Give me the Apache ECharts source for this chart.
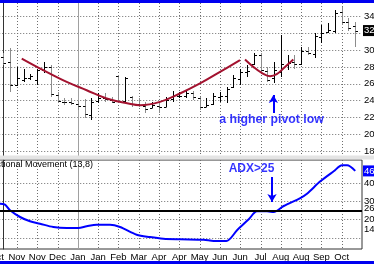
<!DOCTYPE html>
<html><head><meta charset="utf-8">
<script src="https://cdn.jsdelivr.net/npm/echarts@6/dist/echarts.min.js"></script>
<style>html,body{margin:0;padding:0;background:#fff}#c{width:374px;height:264px}</style>
</head><body><div id="c"></div>
<script>
// ---- data (weekly bars, index 0..52) ----
const opens  = [29.2,28.6,25.8,26.5,26.7,26.4,27.6,28.0,24.7,23.9,23.8,23.6,23.4,22.3,24.0,24.3,24.1,26.9,24.0,24.4,23.6,23.4,23.1,23.4,23.3,24.2,24.6,24.6,24.9,24.3,23.3,23.6,24.4,24.5,25.6,26.6,27.4,28.3,29.4,27.5,26.7,27.4,28.2,28.6,28.4,29.9,29.5,31.5,32.1,32.3,34.5,33.3,32.8];
const highs  = [29.6,30.2,28.0,27.8,27.2,27.8,28.6,28.2,25.0,24.3,24.3,24.0,24.2,24.3,24.9,24.9,24.4,27.0,26.8,24.6,24.3,23.8,23.8,24.0,24.4,25.2,25.0,25.2,25.2,24.4,24.3,24.9,25.0,25.6,27.0,27.8,28.2,29.7,29.7,28.0,28.6,31.8,29.4,29.4,30.3,30.3,32.0,33.0,33.2,34.7,35.1,33.8,33.3];
const lows   = [28.2,25.0,25.7,26.2,26.4,25.8,27.3,24.4,23.7,23.5,23.5,22.9,22.0,21.7,23.7,23.8,23.7,23.7,23.7,23.2,23.2,22.5,23.1,22.6,23.2,23.8,24.3,24.3,24.1,22.9,23.2,23.5,23.8,23.7,25.5,25.8,26.8,28.2,27.2,26.2,26.1,26.8,27.6,27.8,28.2,29.4,29.0,30.8,32.0,32.0,32.9,32.3,30.3];
const closes = [28.5,25.8,26.7,26.7,26.9,27.6,28.0,24.8,24.0,23.8,23.7,23.4,22.4,23.9,24.3,24.2,23.9,24.0,26.7,23.6,23.5,23.0,23.5,23.2,24.1,24.7,24.6,24.9,24.4,23.3,23.5,24.5,24.6,25.4,26.7,27.4,27.5,29.4,27.6,26.5,27.6,28.4,28.5,28.3,29.9,29.6,31.7,32.0,32.4,34.4,33.3,32.6,32.3];

// rounded-bottom trend curves (week index, price)
const curve1X = [2.71,5.90,9.36,12.31,15.27,18.46,20.19,23.15,26.10,29.06,32.02,34.97];
const curve1Y = [28.99,27.61,26.22,25.24,24.26,23.67,23.47,23.86,24.85,26.04,27.41,28.79];
const curve2X = [35.71,36.94,38.18,39.41,40.40,41.37,42.85];
const curve2Y = [28.88,28.0,27.29,26.90,27.14,27.81,28.88];

// ADX (13,8)
const adxX = [-0.5,0.24,0.98,2.46,3.93,5.41,7.38,9.36,11.07,12.31,13.79,15.76,17.24,19.70,21.67,23.64,26.10,29.61,31.08,32.95,34.53,36.26,37.48,38.96,39.95,41.43,43.88,44.87,46.84,48.82,50.05,50.79,52.0];
const adxY = [28.7,28.2,25.1,21.45,19.1,17.8,16.0,15.45,15.45,16.4,17.25,17.25,16.0,11.8,10.5,9.6,9.3,9.05,8.35,8.35,14.2,20.2,24.55,24.55,24.2,27.45,31.8,34.15,40.9,46.4,49.65,49.65,46.6];
const adxLevel = 25;
const diPlusLast = 26.3, diMinusLast = 14.5;

// axes
const monthTickIdx = [-1,2,5,8,11,14,17,20,23,26,29,32,35,38,41,44,47,50];
const monthLabels  = ['Oct','Nov','Nov','Dec','Jan','Jan','Feb','Mar','Apr','Apr','May','Jun','Jun','Jul','Aug','Aug','Sep','Oct'];
const yearBreakIdx = 11;
const priceTicks = [18,20,22,24,26,28,30,32,34];
const adxGridTicks = [10,20,30,40];
const adxLabelTicks = [10,diMinusLast,20,diPlusLast,30,40];

const FONT = 'Liberation Sans, Arial, sans-serif';
const chart = echarts.init(document.getElementById('c'));
const gridX = monthTickIdx.filter(v => v >= 0 && v !== yearBreakIdx);
const ohlc = opens.map((o,i)=>[i,o,highs[i],lows[i],closes[i]]);
const lastClose = closes[closes.length-1];
const lastAdx = adxY[adxY.length-1];
function dotted(){ return {color:'#6e6e6e', type:[1,2], width:1}; }

// vertical time grid lines drawn through the x scale
function vLines(gi, values, yRef, solid){
  return {type:'custom',xAxisIndex:gi,yAxisIndex:gi,silent:true,z:1,clip:false,
    data:values.map(v=>[v,yRef]),encode:{x:0,y:1},
    renderItem:function(params,api){
      const cs=params.coordSys;
      const x=Math.round(api.coord([api.value(0),api.value(1)])[0])+0.5;
      return {type:'line',shape:{x1:x,y1:cs.y,x2:x,y2:cs.y+cs.height},
        style: solid ? {stroke:'#a0a0a0',lineWidth:1} : {stroke:'#6e6e6e',lineWidth:1,lineDash:[1,2]}};
    }};
}

const option = {
  animation:false,
  grid:[
    {left:-6.77,right:12,top:3,height:153,outerBoundsMode:'none'},
    {left:-6.77,right:12,top:160,height:89,outerBoundsMode:'none',show:true,borderColor:'#333',borderWidth:1}
  ],
  xAxis:[
    {gridIndex:0,type:'value',min:-1.5,max:53,axisTick:{show:false},axisLine:{show:false},
     axisLabel:{show:false},splitLine:{show:false}},
    {gridIndex:1,type:'value',min:-1.5,max:53,axisTick:{show:false},axisLine:{show:false},
     axisLabel:{show:true,customValues:monthTickIdx,formatter:v=>monthLabels[monthTickIdx.indexOf(v)],
       fontSize:9.5,color:'#000',margin:3,fontFamily:FONT},
     splitLine:{show:false}}
  ],
  yAxis:[
    {gridIndex:0,type:'value',position:'right',min:17.456,max:35.562,
     axisLine:{show:true,lineStyle:{color:'#333',width:1}},axisTick:{show:false,customValues:priceTicks},
     axisLabel:{customValues:priceTicks,margin:2,fontSize:9.5,color:'#000',fontFamily:FONT},
     splitLine:{show:true,lineStyle:dotted()}},
    {gridIndex:1,type:'value',position:'right',min:3.99,max:52.55,
     axisLine:{show:true,lineStyle:{color:'#333',width:1}},axisTick:{show:false,customValues:adxGridTicks},
     axisLabel:{customValues:adxLabelTicks,margin:2,fontSize:9.5,color:'#000',fontFamily:FONT,
       formatter:v=>Number.isInteger(v)?String(v):v.toFixed(2)},
     splitLine:{show:true,lineStyle:dotted()}}
  ],
  graphic:[
    {type:'rect',shape:{x:0,y:0,width:374,height:3},style:{fill:'#0000f0'},z:100},
    {type:'rect',shape:{x:0,y:261,width:374,height:3},style:{fill:'#0000f0'},z:100},
    {type:'rect',shape:{x:0,y:155.5,width:374,height:4},style:{fill:'#e4e4e4'},z:100},
    {type:'text',style:{text:'Directional Movement (13,8)',x:93,y:165,align:'right',verticalAlign:'middle',
      font:'9px '+FONT,fill:'#000'},z:100}
  ],
  series:[
    vLines(0, gridX, 26, false),
    vLines(1, gridX, 28, false),
    vLines(0, [yearBreakIdx], 26, true),
    vLines(1, [yearBreakIdx], 28, true),
    {type:'custom',xAxisIndex:0,yAxisIndex:0,data:ohlc,encode:{x:0,y:[1,2,3,4]},clip:true,z:3,
     renderItem:function(params,api){
       const x=api.value(0),o=api.value(1),h=api.value(2),l=api.value(3),c=api.value(4);
       const pH=api.coord([x,h]),pL=api.coord([x,l]),pO=api.coord([x,o]),pC=api.coord([x,c]);
       const cx=Math.round(pH[0])+0.5;
       const col=c>=o?'#000':'#8c8c8c';
       const yo=Math.round(pO[1])+0.5, yc=Math.round(pC[1])+0.5;
       return {type:'group',children:[
         {type:'line',shape:{x1:cx,y1:Math.round(pH[1]),x2:cx,y2:Math.round(pL[1])},style:{stroke:col,lineWidth:1}},
         {type:'line',shape:{x1:cx-2.5,y1:yo,x2:cx,y2:yo},style:{stroke:'#000',lineWidth:1}},
         {type:'line',shape:{x1:cx,y1:yc,x2:cx+2.5,y2:yc},style:{stroke:'#000',lineWidth:1}}
       ]};
     },
     markLine:{silent:true,symbol:['none','none'],animation:false,
       data:[
         {yAxis:lastClose,lineStyle:{color:'rgba(0,0,0,0)',width:0.01},label:{show:true,position:'end',distance:1,
           backgroundColor:'#000',color:'#fff',padding:[1,2,0,1],fontSize:9.5,fontFamily:FONT,
           formatter:p=>p.value.toFixed(2)}}
       ]}
    },
    {type:'line',xAxisIndex:0,yAxisIndex:0,data:curve1X.map((x,k)=>[x,curve1Y[k]]),smooth:0.4,
     symbol:'none',lineStyle:{color:'#a3122f',width:2},z:4},
    {type:'line',xAxisIndex:0,yAxisIndex:0,data:curve2X.map((x,k)=>[x,curve2Y[k]]),smooth:0.4,
     symbol:'none',lineStyle:{color:'#a3122f',width:2},z:4},
    {type:'line',xAxisIndex:1,yAxisIndex:1,data:adxX.map((x,k)=>[x,adxY[k]]),smooth:0.3,
     symbol:'none',lineStyle:{color:'#0000ff',width:2},z:4,
     markLine:{silent:true,symbol:['none','none'],animation:false,
       data:[
         {yAxis:adxLevel,lineStyle:{color:'#000',type:'solid',width:2},label:{show:false}},
         {yAxis:lastAdx,lineStyle:{color:'rgba(0,0,0,0)',width:0.01},label:{show:true,position:'end',distance:1,
           backgroundColor:'#0000ff',color:'#fff',padding:[1,2,0,1],fontSize:9.5,fontFamily:FONT,
           formatter:p=>p.value.toFixed(2)}}
       ]}
    },
    {type:'scatter',xAxisIndex:0,yAxisIndex:0,symbolSize:0,data:[[39.63,21.72]],z:6,
     label:{show:true,position:'inside',formatter:'a higher pivot low',color:'#0000ff',fontWeight:'bold',fontSize:12.3,fontFamily:FONT},
     markLine:{silent:true,symbol:['none','arrow'],symbolSize:[7,8],animation:false,
       lineStyle:{color:'#0000ff',width:2,type:'solid'},label:{show:false},
       data:[[{coord:[39.9,22.55]},{coord:[39.9,24.67]}]]}
    },
    {type:'scatter',xAxisIndex:1,yAxisIndex:1,symbolSize:0,data:[[36.67,47.6]],z:6,
     label:{show:true,position:'inside',formatter:'ADX>25',color:'#0000ff',fontWeight:'bold',fontSize:12,fontFamily:FONT},
     markLine:{silent:true,symbol:['none','arrow'],symbolSize:[7,8],animation:false,
       lineStyle:{color:'#0000ff',width:2,type:'solid'},label:{show:false},
       data:[[{coord:[39.7,43.3]},{coord:[39.7,29.6]}]]}
    }
  ]
};
chart.setOption(option);
</script></body></html>
